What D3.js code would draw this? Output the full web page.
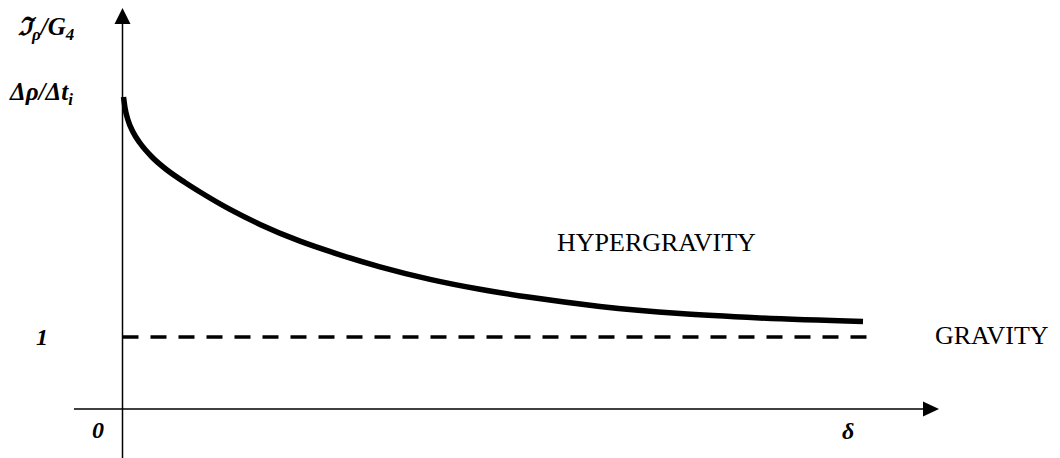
<!DOCTYPE html>
<html>
<head>
<meta charset="utf-8">
<script src="https://cdn.jsdelivr.net/npm/d3@7"></script>
<style>
  html, body { margin: 0; padding: 0; background: #fff; }
  svg { display: block; font-family: "Liberation Serif", "Times New Roman", serif; }
</style>
</head>
<body>
<svg id="chart" width="1060" height="458"></svg>
<script>
// ---- data ----
const deltaValues = [0.014, 0.034, 0.074, 0.142, 0.236, 0.398, 0.601, 0.844, 1.047, 1.452, 1.857, 2.397, 2.937, 3.477, 4.153, 4.828, 5.503, 6.448, 7.529, 8.609, 10.0];
const ratioValues = [4.333, 4.181, 4.014, 3.847, 3.694, 3.500, 3.319, 3.146, 3.014, 2.772, 2.564, 2.331, 2.142, 1.975, 1.801, 1.663, 1.551, 1.425, 1.325, 1.264, 1.214];
const gravityLevel = [1, 1];
const gravityDelta = [0, 10.05];
const yTickValues = [0, 1, 4.333];
const regionLabels = ["HYPERGRAVITY", "GRAVITY"];

// ---- scales ----
const svg = d3.select("#chart");
const x = d3.scaleLinear().domain([0, 10]).range([122.5, 863]);
const y = d3.scaleLinear().domain([0, 1]).range([409, 337]);

// ---- axes ----
svg.append("line").attr("x1", 74).attr("x2", 924).attr("y1", y(0)).attr("y2", y(0))
  .attr("stroke", "#000").attr("stroke-width", 1.5);
svg.append("path").attr("d", `M939,${y(0)} L923,${y(0) - 7.5} L923,${y(0) + 7.5} Z`).attr("fill", "#000");

svg.append("line").attr("x1", x(0)).attr("x2", x(0)).attr("y1", 22).attr("y2", 458)
  .attr("stroke", "#000").attr("stroke-width", 1.5);
svg.append("path").attr("d", `M${x(0)},8 L${x(0) - 8},24 L${x(0) + 8},24 Z`).attr("fill", "#000");

// ---- gravity (dashed) ----
svg.append("path")
  .datum(gravityDelta.map((d, i) => [d, gravityLevel[i]]))
  .attr("d", d3.line().x(d => x(d[0])).y(d => y(d[1])))
  .attr("fill", "none").attr("stroke", "#000").attr("stroke-width", 3.5)
  .attr("stroke-dasharray", "16,12");

// ---- hypergravity curve ----
svg.append("path")
  .datum(deltaValues.map((d, i) => [d, ratioValues[i]]))
  .attr("d", d3.line().x(d => x(d[0])).y(d => y(d[1])).curve(d3.curveMonotoneX))
  .attr("fill", "none").attr("stroke", "#000").attr("stroke-width", 5.5)
  .attr("stroke-linecap", "butt");

// ---- labels ----
const bi = sel => sel.attr("font-weight", "bold").attr("font-style", "italic");

// y axis title
const t1 = svg.append("text").attr("x", 18).attr("y", 35).attr("font-size", 25).call(bi);
t1.append("tspan").text("\u2111");
t1.append("tspan").attr("font-size", 17).attr("dy", 5).text("\u03C1");
t1.append("tspan").attr("dy", -5).text("/G");
t1.append("tspan").attr("font-size", 17).attr("dy", 5).text("4");

// top tick label
const t2 = svg.append("text").attr("x", 10).attr("y", y(yTickValues[2]) + 3).attr("font-size", 25).call(bi);
t2.append("tspan").text("\u0394\u03C1/\u0394t");
t2.append("tspan").attr("font-size", 17).attr("dy", 5).text("i");

svg.append("text").attr("x", 36).attr("y", y(yTickValues[1]) + 8).attr("font-size", 24).call(bi).text(String(yTickValues[1]));
svg.append("text").attr("x", 92).attr("y", y(yTickValues[0]) + 29).attr("font-size", 24).call(bi).text(String(yTickValues[0]));
svg.append("text").attr("x", 842).attr("y", 439).attr("font-size", 24).call(bi).text("\u03B4");

svg.append("text").attr("x", 557).attr("y", 251).attr("font-size", 26).text(regionLabels[0]);
svg.append("text").attr("x", 935).attr("y", 344).attr("font-size", 26).text(regionLabels[1]);
</script>
</body>
</html>
